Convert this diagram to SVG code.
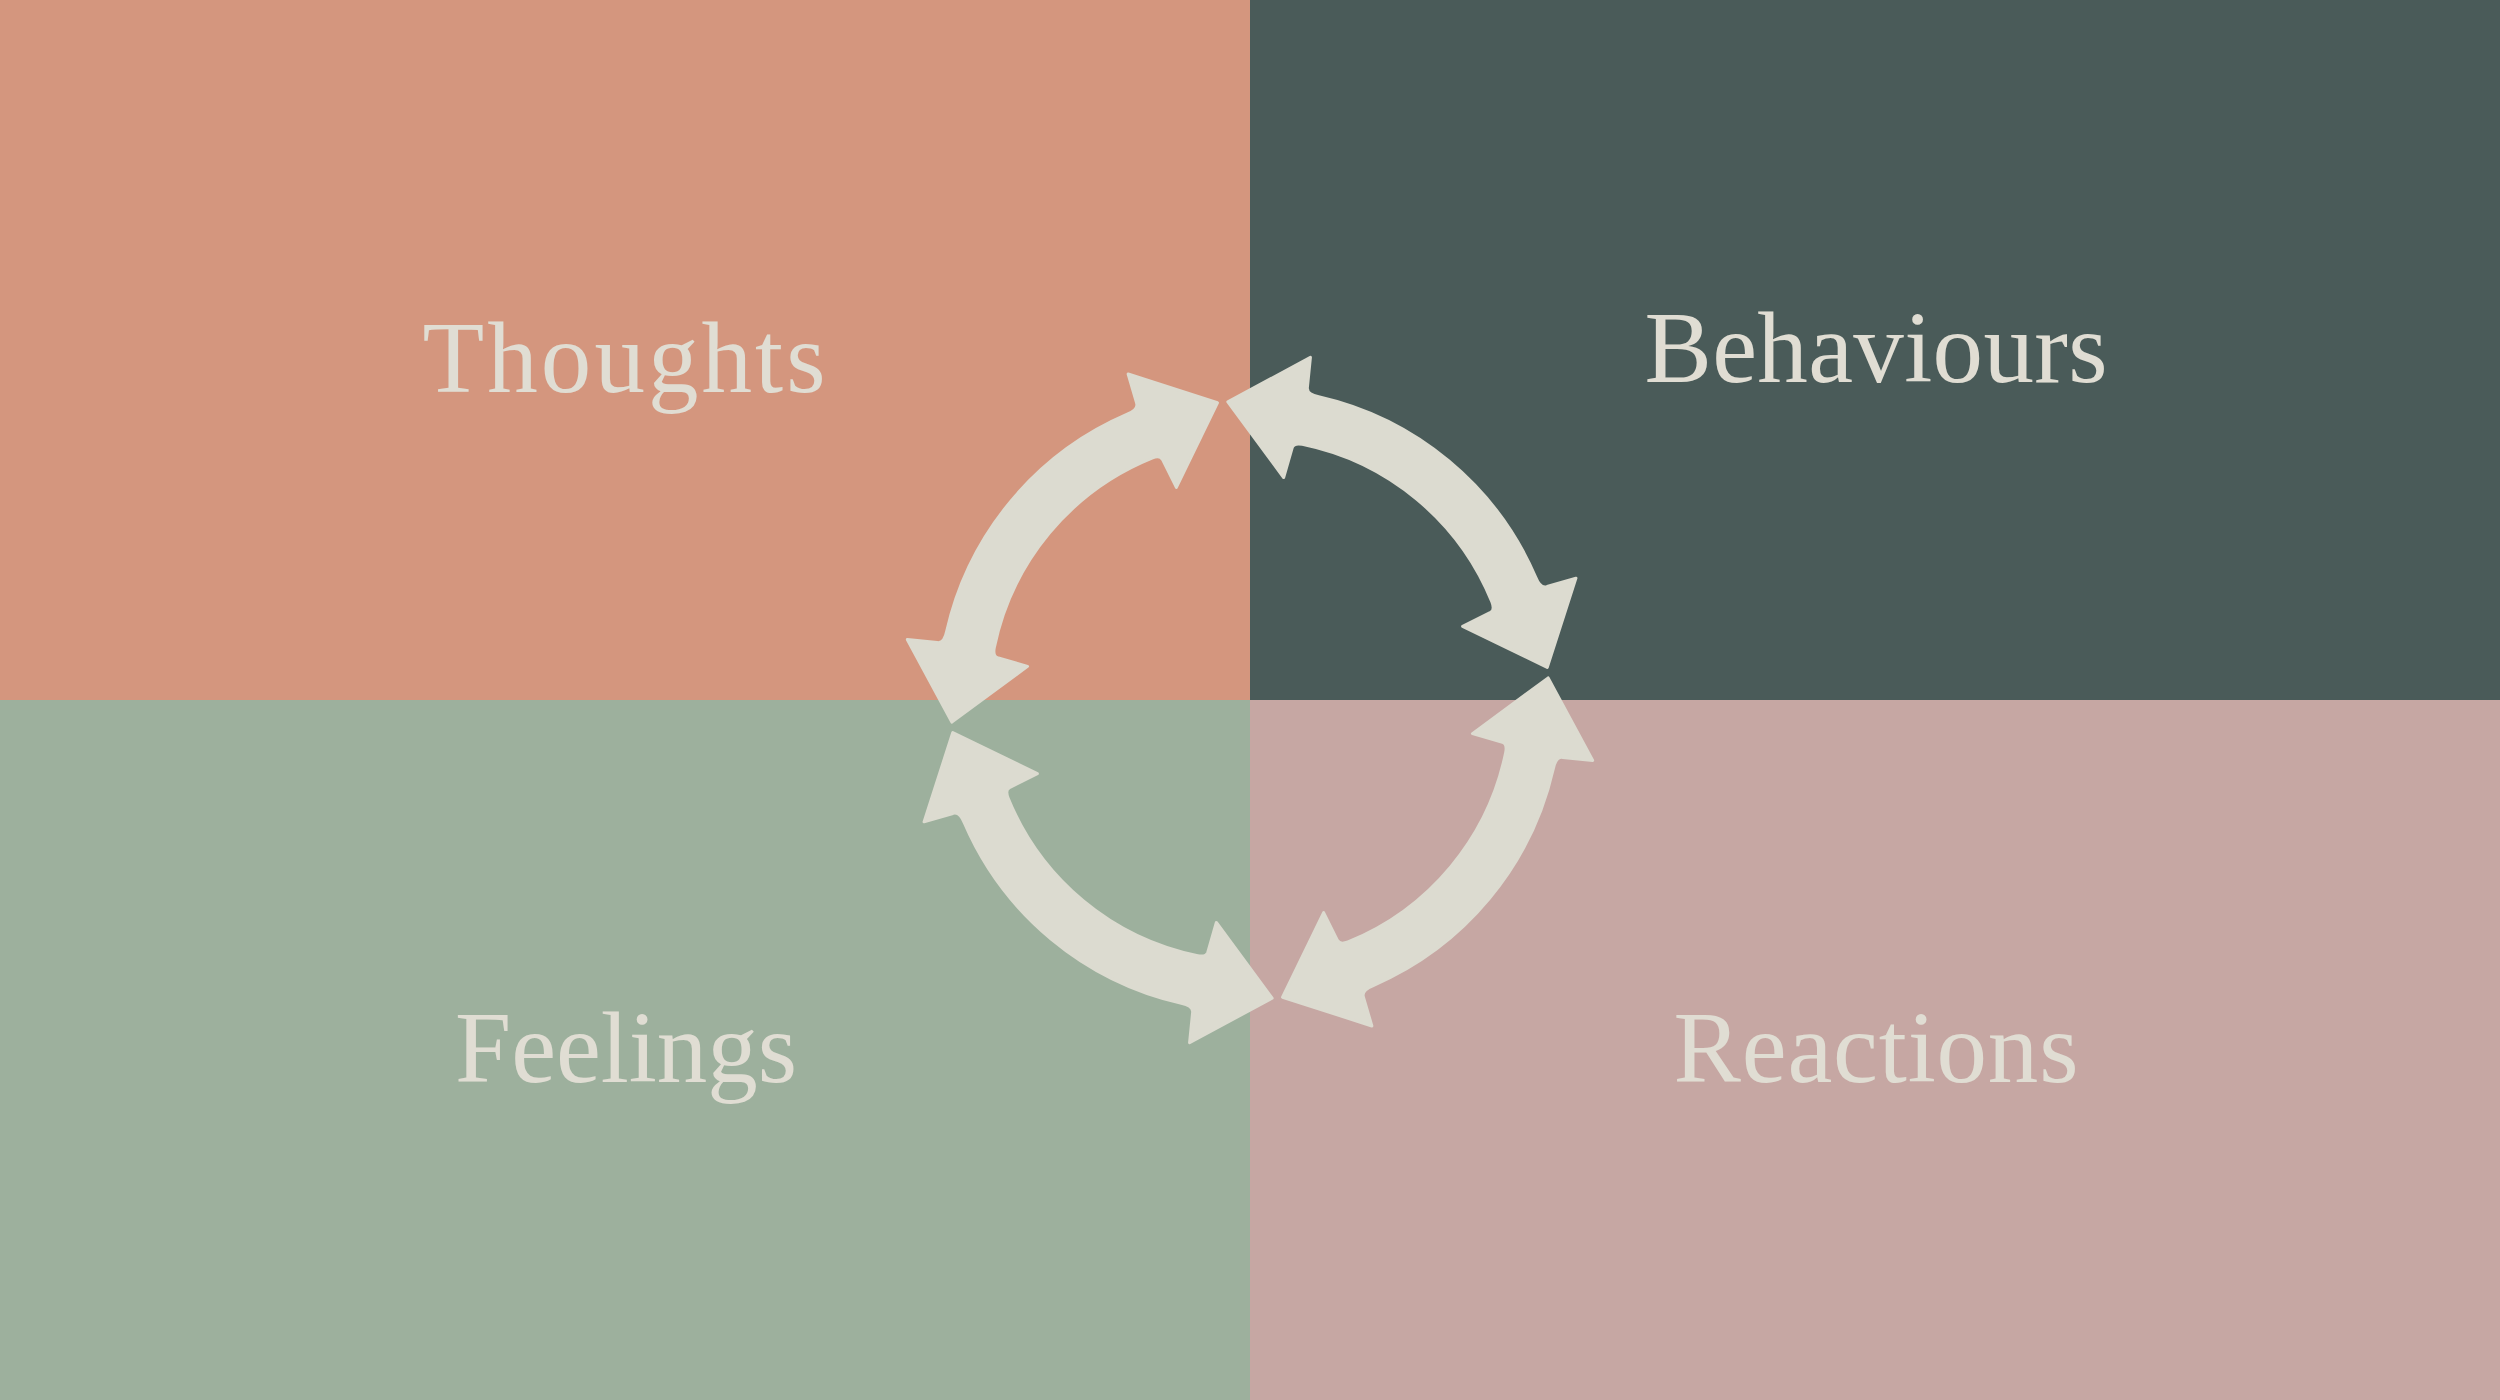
<svg xmlns="http://www.w3.org/2000/svg" xmlns:xlink="http://www.w3.org/1999/xlink" width="2500" height="1400" viewBox="0 0 2500 1400">
  <style>
    .label { font-family: "Liberation Serif", "DejaVu Serif", serif; font-size: 101px; fill: #E0DDD3; text-anchor: middle; }
    .arrow { fill: #DCDBD0; stroke: #DCDBD0; stroke-width: 3; stroke-linejoin: round; }
  </style>
  <defs>
    <path id="arc-arrow" class="arrow" d="M 207.70 -215.08 L 172.68 -302.13 L 155.86 -277.18 Q 152.20 -271.21 141.19 -277.10 A 311 311 0 0 0 -141.19 -277.10 Q -152.20 -271.21 -155.86 -277.18 L -172.68 -302.13 L -207.70 -215.08 L -116.39 -192.56 L -128.97 -221.14 Q -130.89 -225.80 -123.34 -230.02 A 261 261 0 0 1 123.34 -230.02 Q 130.89 -225.80 128.97 -221.14 L 116.39 -192.56 Z"/>
  </defs>
  <g id="thoughts">
    <rect x="0" y="0" width="1250" height="700" fill="#D4967E"/>
    <text class="label" x="624" y="392" textLength="403" lengthAdjust="spacing">Thoughts</text>
  </g>
  <g id="behaviours">
    <rect x="1250" y="0" width="1250" height="700" fill="#4A5B59"/>
    <text class="label" x="1876" y="382" textLength="463" lengthAdjust="spacing">Behaviours</text>
  </g>
  <g id="feelings">
    <rect x="0" y="700" width="1250" height="700" fill="#9DB09D"/>
    <text class="label" x="626" y="1082" textLength="342" lengthAdjust="spacing">Feelings</text>
  </g>
  <g id="reactions">
    <rect x="1250" y="700" width="1250" height="700" fill="#C6A7A3"/>
    <text class="label" x="1876" y="1082" textLength="405" lengthAdjust="spacing">Reactions</text>
  </g>
  <g id="connectors">
    <use xlink:href="#arc-arrow" href="#arc-arrow" transform="translate(1250 700) rotate(39.75)"/>
    <use xlink:href="#arc-arrow" href="#arc-arrow" transform="translate(1250 700) rotate(129.75)"/>
    <use xlink:href="#arc-arrow" href="#arc-arrow" transform="translate(1250 700) rotate(219.75)"/>
    <use xlink:href="#arc-arrow" href="#arc-arrow" transform="translate(1250 700) rotate(309.75)"/>
  </g>
</svg>
